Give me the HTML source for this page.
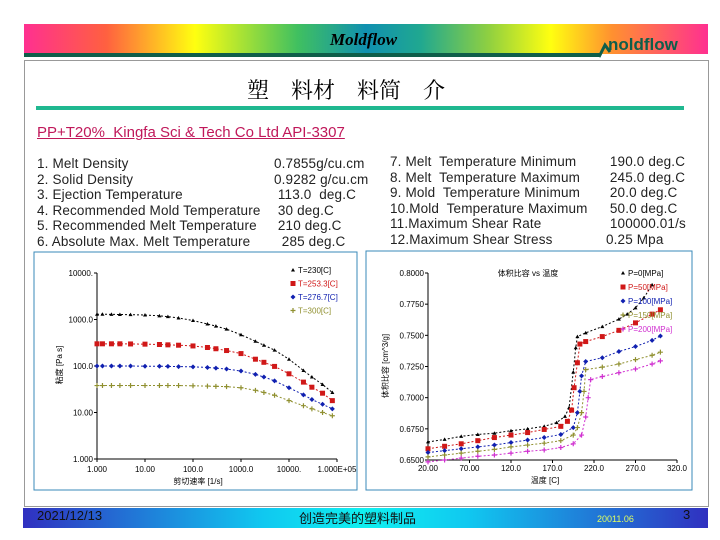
<!DOCTYPE html>
<html><head><meta charset="utf-8"><style>
body{margin:0;width:720px;height:540px;background:#fff;position:relative;overflow:hidden;font-family:"Liberation Sans","Noto Sans CJK SC",sans-serif}
.a{position:absolute;white-space:nowrap}
.t{font-size:13.5px;color:#222;line-height:15.5px;letter-spacing:0.15px}
</style></head><body>
<div class="a" style="left:24px;top:24px;width:684px;height:30px;background:linear-gradient(90deg,#ff3090 0%,#ff6040 12%,#ffff10 25%,#40c060 40%,#1090b0 50%,#20a890 58%,#90d040 68%,#ffff10 77%,#ff9030 86%,#ff3090 100%)"></div>
<div class="a" style="left:24px;top:53px;width:576px;height:4px;background:#0f5e4a"></div>
<svg class="a" style="left:596px;top:24px" width="114" height="36"><path d="M3 33 L9 21 L14 28" stroke="#0f5e4a" stroke-width="3" fill="none"/><text x="12" y="26" font-size="17" font-weight="bold" font-family="Liberation Sans" fill="#0f5e4a">noldflow</text></svg>
<div class="a" style="left:330px;top:30px;font:italic bold 17px 'Liberation Serif',serif;color:#000">Moldflow</div>
<div class="a" style="left:24px;top:60px;width:683px;height:445px;border:1px solid #999"></div>
<div class="a" style="left:247px;top:74px;font-size:22px;color:#000;font-family:'Noto Serif CJK SC',serif">塑　料材　料简　介</div>
<div class="a" style="left:36px;top:106px;width:648px;height:4px;background:#20b890"></div>
<div class="a" style="left:37px;top:124px;font-size:15px;color:#c0185a;text-decoration:underline">PP+T20%&nbsp; Kingfa Sci &amp; Tech Co Ltd API-3307</div>
<div class="a t" style="left:37px;top:156px">1. Melt Density<br>2. Solid Density<br>3. Ejection Temperature<br>4. Recommended Mold Temperature<br>5. Recommended Melt Temperature<br>6. Absolute Max. Melt Temperature</div>
<div class="a t" style="left:274px;top:156px">0.7855g/cu.cm<br>0.9282 g/cu.cm<br>&nbsp;113.0&nbsp; deg.C<br>&nbsp;30 deg.C<br>&nbsp;210 deg.C<br>&nbsp; 285 deg.C</div>
<div class="a t" style="left:390px;top:154px">7. Melt&nbsp; Temperature Minimum<br>8. Melt&nbsp; Temperature Maximum<br>9. Mold&nbsp; Temperature Minimum<br>10.Mold&nbsp; Temperature Maximum<br>11.Maximum Shear Rate<br>12.Maximum Shear Stress</div>
<div class="a t" style="left:606px;top:154px">&nbsp;190.0 deg.C<br>&nbsp;245.0 deg.C<br>&nbsp;20.0 deg.C<br>&nbsp;50.0 deg.C<br>&nbsp;100000.01/s<br>0.25 Mpa</div>
<svg class="a" style="left:0;top:0" width="720" height="540" id="charts">
<rect x="34" y="252" width="323" height="238" fill="none" stroke="#3a8ab8"/>
<rect x="366" y="251" width="326" height="239" fill="none" stroke="#3a8ab8"/>
<g id="g1"></g><g id="g2"></g>
</svg>
<div class="a" style="left:23px;top:508px;width:685px;height:20px;background:linear-gradient(90deg,#3030c0 0%,#10c8f0 35%,#10f0f0 50%,#10c8f0 65%,#3030c0 100%)"></div>
<div class="a" style="left:37px;top:508px;font-size:13px;color:#111">2021/12/13</div>
<div class="a" style="left:299px;top:508px;font-size:13px;color:#111">创造完美的塑料制品</div>
<div class="a" style="left:597px;top:514px;font-size:9px;color:#e0ff60">20011.06</div>
<div class="a" style="left:683px;top:507px;font-size:13px;color:#111">3</div>
<script>
// Viscosity chart data
const rates=[1,1.3,2,3,5,10,20,30,50,100,200,300,500,1000,2000,3000,5000,10000,20000,30000,50000,80000];
const vT230=[1300,1300,1290,1280,1270,1250,1200,1150,1080,950,800,720,620,470,340,280,220,140,80,58,40,27];
const vT253=[300,300,300,300,298,295,290,285,280,270,250,235,215,185,140,120,98,68,45,35,26,18];
const vT276=[100,100,100,100,100,99,99,98,97,96,93,90,86,78,66,58,48,34,24,19,15,12];
const vT300=[38,38,38,38,38,38,38,38,38,37.5,37,36.5,36,34,30,27,23.5,18,14,12,10,8.5];
const yTicks1=["1.000","10.00","100.0","1000.0","10000."];
const xTicks1=["1.000","10.00","100.0","1000.0","10000.","1.000E+05"];
const legend1=["T=230[C]","T=253.3[C]","T=276.7[C]","T=300[C]"];
// PVT chart data
const temps0=[20,40,60,80,100,120,140,160,175,185,190,195,198,200,210,230,250,260,270,280,290];
const p0=[0.6645,0.6665,0.669,0.6705,0.6715,0.6735,0.675,0.677,0.680,0.685,0.692,0.7205,0.740,0.749,0.752,0.757,0.763,0.767,0.772,0.780,0.7905];
const temps1=[20,40,60,80,100,120,140,160,180,188,193,196,200,203,210,230,250,270,290,300];
const p50=[0.659,0.661,0.663,0.6655,0.668,0.670,0.672,0.6745,0.677,0.681,0.690,0.708,0.728,0.743,0.745,0.749,0.754,0.760,0.767,0.7705];
const temps2=[20,40,60,80,100,120,140,160,180,195,200,203,205,210,230,250,270,290,300];
const p100=[0.656,0.6575,0.659,0.6605,0.662,0.664,0.666,0.668,0.6705,0.676,0.688,0.705,0.7175,0.729,0.732,0.737,0.741,0.746,0.7495];
const temps3=[20,40,60,80,100,120,140,160,180,195,200,205,208,210,230,250,270,290,300];
const p150=[0.6525,0.654,0.6555,0.657,0.6585,0.6605,0.662,0.6635,0.6655,0.670,0.676,0.688,0.705,0.7225,0.7245,0.727,0.7305,0.734,0.7365];
const temps4=[20,40,60,80,100,120,140,160,180,195,205,210,213,216,230,250,270,290,300];
const p200=[0.6485,0.650,0.6515,0.653,0.654,0.6555,0.657,0.658,0.660,0.663,0.670,0.6845,0.700,0.7145,0.717,0.720,0.723,0.727,0.7295];
const yTicks2=["0.6500","0.6750","0.7000","0.7250","0.7500","0.7750","0.8000"];
const xTicks2=["20.00","70.00","120.0","170.0","220.0","270.0","320.0"];
const legend2=["P=0[MPa]","P=50[MPa]","P=100[MPa]","P=150[MPa]","P=200[MPa]"];

const NS="http://www.w3.org/2000/svg";
function mk(p,t,at){const e=document.createElementNS(NS,t);for(const k in at)e.setAttribute(k,at[k]);p.appendChild(e);return e;}
function txt(p,x,y,s,c,sz,anc){const e=mk(p,'text',{x:x,y:y,'font-size':sz||8,fill:c||'#000','text-anchor':anc||'start','font-family':'Liberation Sans, Noto Sans CJK SC, sans-serif'});e.textContent=s;return e;}
function marker(p,kind,x,y,c){
 if(kind==='tri')return mk(p,'path',{d:`M${x} ${y-2}L${x+2} ${y+1.5}L${x-2} ${y+1.5}Z`,fill:c});
 if(kind==='sq')return mk(p,'rect',{x:x-2.5,y:y-2.5,width:5,height:5,fill:c});
 if(kind==='dia')return mk(p,'path',{d:`M${x} ${y-2.5}L${x+2.5} ${y}L${x} ${y+2.5}L${x-2.5} ${y}Z`,fill:c});
 return mk(p,'path',{d:`M${x-2.5} ${y}H${x+2.5}M${x} ${y-2.5}V${y+2.5}`,stroke:c,'stroke-width':1.2});
}
const cols=['#000','#d01818','#1020b0','#909030','#d030d0'];
const kinds=['tri','sq','dia','plus','plus'];

// chart 1
const g1=document.getElementById('g1');
const X1=v=>97+Math.log10(v)*48, Y1=v=>459-Math.log10(v)*46.5;
mk(g1,'path',{d:'M97 273V459H337',stroke:'#000',fill:'none','stroke-width':1});
yTicks1.forEach((s,i)=>{const y=459-i*46.5;mk(g1,'line',{x1:94,x2:97,y1:y,y2:y,stroke:'#000'});txt(g1,93,y+3,s,'#000',8,'end');});
xTicks1.forEach((s,i)=>{const x=97+i*48;mk(g1,'line',{x1:x,x2:x,y1:459,y2:462,stroke:'#000'});txt(g1,x,472,s,'#000',8,'middle');});
txt(g1,198,484,'剪切速率 [1/s]','#000',8,'middle');
const yl=txt(g1,62,365,'粘度 [Pa s]','#000',8,'middle');yl.setAttribute('transform','rotate(-90 62 365)');
[vT230,vT253,vT276,vT300].forEach((ser,si)=>{
 const g=mk(g1,'g',{});
 mk(g,'polyline',{points:ser.map((v,i)=>X1(rates[i])+','+Y1(v)).join(' '),fill:'none',stroke:cols[si],'stroke-width':1,'stroke-dasharray':'2 2'});
 ser.forEach((v,i)=>marker(g,kinds[si],X1(rates[i]),Y1(v),cols[si]));
});
legend1.forEach((s,i)=>{const y=273+i*13.5;const lg=mk(g1,'g',{});marker(lg,kinds[i],293,y-3,cols[i]);txt(lg,298,y,s,cols[i],8);});

// chart 2
const g2=document.getElementById('g2');
const X2=v=>428+(v-20)*(249/300), Y2=v=>460-(v-0.65)*(187/0.15);
mk(g2,'path',{d:'M428 273V460H677',stroke:'#000',fill:'none'});
yTicks2.forEach((s,i)=>{const y=460-i*187/6;mk(g2,'line',{x1:425,x2:428,y1:y,y2:y,stroke:'#000'});txt(g2,424,y+3,s,'#000',8,'end');});
xTicks2.forEach((s,i)=>{const x=428+i*249/6;mk(g2,'line',{x1:x,x2:x,y1:460,y2:463,stroke:'#000'});txt(g2,x,471,s,'#000',8,'middle');});
txt(g2,545,483,'温度 [C]','#000',8,'middle');
txt(g2,528,276,'体积比容 vs 温度','#000',8,'middle');
const yl2=txt(g2,388,366,'体积比容 [cm^3/g]','#000',8,'middle');yl2.setAttribute('transform','rotate(-90 388 366)');
[[temps0,p0],[temps1,p50],[temps2,p100],[temps3,p150],[temps4,p200]].forEach(([tx,ser],si)=>{
 const g=mk(g2,'g',{});
 mk(g,'polyline',{points:ser.map((v,i)=>X2(tx[i])+','+Y2(v)).join(' '),fill:'none',stroke:cols[si],'stroke-width':1,'stroke-dasharray':'2 2'});
 ser.forEach((v,i)=>marker(g,kinds[si],X2(tx[i]),Y2(v),cols[si]));
});
legend2.forEach((s,i)=>{const y=276+i*14;const lg=mk(g2,'g',{});marker(lg,kinds[i],623,y-3,cols[i]);txt(lg,628,y,s,cols[i],8);});
</script>
</body></html>
